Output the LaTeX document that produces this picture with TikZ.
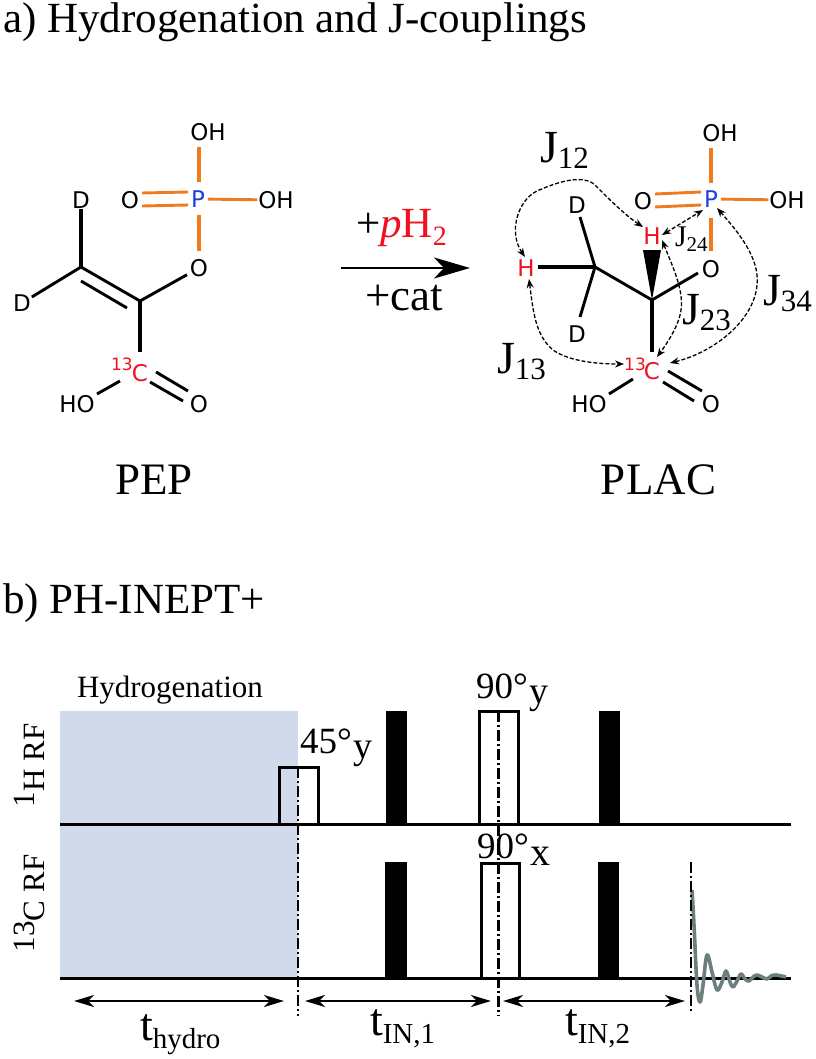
\documentclass[tikz,border=0pt]{standalone}
\usepackage{fontspec}
\setmainfont{Liberation Serif}
\newfontfamily\atomfont{DejaVu Sans}
\usetikzlibrary{arrows.meta}
\definecolor{bondor}{HTML}{F07A1E}
\definecolor{atomred}{HTML}{F01020}
\definecolor{atomblue}{HTML}{1C3FE0}
\definecolor{hydrob}{HTML}{D0DAEA}
\definecolor{fidgrey}{HTML}{6B7F7F}
\newcommand{\sz}[1]{\fontsize{#1}{#1}\selectfont}
\newcommand{\subt}[3]{\raisebox{#2}{\sz{#1}#3}}
\tikzset{
  atom/.style={font=\atomfont\sz{23},inner sep=1pt,text=black,outer sep=0pt,text height=17pt,text depth=0pt},
  redatom/.style={atom,text=atomred},
  blueatom/.style={atom,text=atomblue},
  bond/.style={line width=2.9pt,black},
  pbond/.style={line width=2.9pt,bondor},
  jarrow/.style={dash pattern=on 4pt off 2pt,line width=1.3pt,{Stealth[length=9pt,width=7pt]}-{Stealth[length=9pt,width=7pt]}},
  serif/.style={inner sep=0pt,outer sep=0pt,anchor=base west},
  pulseline/.style={line width=3pt,black},
  dashdot/.style={line width=2.4pt,dash pattern=on 11pt off 3pt on 2pt off 3pt},
  dimarrow/.style={line width=2.2pt,{Stealth[length=20pt,width=12pt,inset=6pt]}-{Stealth[length=20pt,width=12pt,inset=6pt]}},
}
\begin{document}
\begin{tikzpicture}[x=1pt,y=-1pt]
\useasboundingbox (0,0) rectangle (815,1059);
% titles
\node[serif,font=\sz{43}] (ta) at (3,33) {a) Hydrogenation and J-couplings};
\node[serif,font=\sz{43}] (tb) at (3,613) {b) PH-INEPT+};
% ---------- PEP
\node[atom] (aOHt) at (208,132) {OH};
\node[blueatom,inner sep=3pt] (aP) at (198,199) {P};
\node[atom] (aOHr) at (276,200) {OH};
\node[atom,inner sep=3pt] (aOl) at (130,200) {O};
\node[atom,inner sep=3pt] (aO) at (199,268) {O};
\node[atom] (aDt) at (81,200) {D};
\node[atom] (aDl) at (22,303) {D};
\node[redatom,inner sep=2pt] (aC) at (140,373) {C};
\node[redatom,font=\atomfont\sz{17}] (aCn) at (122,362) {13};
\node[atom] (aHO) at (77,404) {HO};
\node[atom,inner sep=3pt] (aOb) at (199,404) {O};
\coordinate (aC1) at (81,267);
\coordinate (aC2) at (140,301);
\coordinate (aC1i) at (81,281);
\coordinate (aC2i) at (127,308);
\draw[pbond,line width=3.6pt] (199,147) -- (199,182);
\draw[pbond] (aP) -- (aOHr);
\draw[pbond] ([yshift=7pt]aOl.east) -- ([yshift=7pt]aP.west);
\draw[pbond] ([yshift=-6pt]aOl.east) -- ([yshift=-6pt]aP.west);
\draw[pbond,line width=3.6pt] (199,215) -- (199,251);
\draw[bond] (aO) -- (aC2);
\draw[bond] (aC1) -- (aC2);
\draw[bond] (aC1i) -- (aC2i);
\draw[bond,line width=3.6pt] (aDt) -- (aC1);
\draw[bond] (aDl) -- (aC1);
\draw[bond,line width=3.6pt] (aC2) -- (140,352);
\draw[bond] (120,381) -- (97,394);
\draw[bond] (156,372) -- (188,391);
\draw[bond] (150,382) -- (183,401);
\node[serif,font=\sz{45},anchor=base] (pep) at (154,494) {PEP};
% ---------- arrow
\coordinate (rs) at (341,268);
\coordinate (re) at (470,268);
\draw[line width=2.4pt,-{Stealth[length=36pt,width=21pt,inset=10pt]}] (rs) -- (re);
\node[serif,font=\sz{43}] (rt) at (356,237) {+\textcolor{atomred}{\textit{p}H\subt{28}{-9pt}{2}}};
\node[serif,font=\sz{45}] (rb) at (365,310) {+cat};
% ---------- PLAC
\node[atom] (bOHt) at (720,133) {OH};
\node[blueatom,inner sep=3pt] (bP) at (711,199) {P};
\node[atom] (bOHr) at (787,200) {OH};
\node[atom,inner sep=3pt] (bOl) at (643,201) {O};
\node[atom,inner sep=3pt] (bO) at (711,269) {O};
\node[redatom,inner sep=3pt] (bH) at (652,236) {H};
\node[redatom,inner sep=3pt] (bHl) at (526,268) {H};
\node[atom] (bDt) at (577,205) {D};
\node[atom] (bDb) at (577,334) {D};
\node[redatom,inner sep=2pt] (bC) at (652,371) {C};
\node[redatom,font=\atomfont\sz{17}] (bCn) at (635,362) {13};
\node[atom] (bHO) at (589,404) {HO};
\node[atom,inner sep=3pt] (bOb) at (711,404) {O};
\coordinate (bC1) at (595,267);
\coordinate (bC2) at (652,300);
\draw[pbond,line width=3.6pt] (711,148) -- (711,183);
\draw[pbond] (bP) -- (bOHr);
\draw[pbond] ([yshift=7pt]bOl.east) -- ([yshift=7pt]bP.west);
\draw[pbond] ([yshift=-6pt]bOl.east) -- ([yshift=-6pt]bP.west);
\draw[pbond,line width=3.6pt] (711,218) -- (711,251);
\fill[black] (bC2) -- (643,250) -- (661,250) -- cycle;
\draw[bond] (bC2) -- (698,273);
\draw[bond] (bC1) -- (bC2);
\draw[bond,line width=3.6pt] (538,267) -- (bC1);
\draw[bond] (580,217) -- (bC1);
\draw[bond] (580,317) -- (bC1);
\draw[bond,line width=3.6pt] (bC2) -- (652,352);
\draw[bond] (633,379) -- (609,394);
\draw[bond] (668,371) -- (702,391);
\draw[bond] (663,382) -- (694,401);
\node[serif,font=\sz{45},anchor=base] (plac) at (658.5,494) {PLAC};
% J couplings
\draw[jarrow] (525,257) .. controls (508,232) and (518,200) .. (537,191) .. controls (555,183) and (585,172) .. (597,187) .. controls (610,200) and (625,215) .. (643,227);
\draw[jarrow] (529,279) .. controls (533,310) and (535,335) .. (553,350) .. controls (570,362) and (600,364) .. (624,364);
\draw[jarrow] (662,235) -- (703,210);
\draw[jarrow] (662,240) .. controls (672,265) and (684,290) .. (681,310) .. controls (679,325) and (668,342) .. (657,357);
\draw[jarrow] (717,208) .. controls (738,232) and (760,258) .. (757,285) .. controls (754,320) and (715,352) .. (670,363);
\node[serif,font=\sz{46}] (j12) at (540,163) {J\subt{31}{-6pt}{12}};
\node[serif,font=\sz{46}] (j13) at (497,373) {J\subt{31}{-6pt}{13}};
\node[serif,font=\sz{46}] (j23) at (682,324) {J\subt{31}{-6pt}{23}};
\node[serif,font=\sz{46}] (j34) at (763,305) {J\subt{31}{-6pt}{34}};
\node[serif,font=\sz{30}] (j24) at (675,247) {J\subt{21}{-5pt}{24}};
% ---------- sequence
\fill[hydrob] (60,711) rectangle (298,978);
\node[serif,font=\sz{31}] (hyd) at (77,697) {Hydrogenation};
\draw[pulseline] (279,824) -- (279,767) -- (318,767) -- (318,824);
\draw[pulseline] (479,824) -- (479,711) -- (518,711) -- (518,824);
\draw[pulseline] (481,978) -- (481,863) -- (519,863) -- (519,978);
\fill[black] (386,711) rectangle (407,824);
\fill[black] (599,711) rectangle (620,824);
\fill[black] (385,862) rectangle (407,978);
\fill[black] (598,862) rectangle (619,978);
\draw[pulseline] (60,824) -- (791,824);
\draw[pulseline] (60,978) -- (791,978);
\draw[fidgrey,line width=3.6pt,line join=round] plot[smooth,tension=0.6] coordinates {(692,890) (694,925) (697,985) (700,1002) (703,985) (707,955) (712,972) (717,990) (722,982) (726,971) (730,982) (733,987) (737,981) (741,974) (745,979) (749,981) (753,977) (757,975) (762,977) (767,979) (771,976) (776,975) (786,977)};
\coordinate (d1a) at (298,767); \coordinate (d1b) at (298,1016);
\coordinate (d2a) at (498.5,711); \coordinate (d2b) at (498.5,1016);
\coordinate (d3a) at (691,862); \coordinate (d3b) at (691,1012);
\draw[dashdot] (d1a) -- (d1b);
\draw[dashdot] (d2a) -- (d2b);
\draw[dashdot] (d3a) -- (d3b);
\coordinate (a1) at (74,1001); \coordinate (a2) at (284,1001);
\coordinate (a3) at (305,1001); \coordinate (a4) at (491,1001);
\coordinate (a5) at (503,1001); \coordinate (a6) at (685,1001);
\draw[dimarrow] (a1) -- (a2);
\draw[dimarrow] (a3) -- (a4);
\draw[dimarrow] (a5) -- (a6);
\node[serif,font=\sz{37}] (l45) at (300,753) {45°\kern2pt\subt{38}{-5pt}{y}};
\node[serif,font=\sz{37}] (l90y) at (476,698) {90°\kern2pt\subt{38}{-5pt}{y}};
\node[serif,font=\sz{37}] (l90x) at (477,858) {90°\kern2pt\subt{40}{-7pt}{x}};
\node[serif,font=\sz{46}] (th) at (140,1040) {t\subt{29}{-8pt}{hydro}};
\node[serif,font=\sz{46}] (t1) at (370,1035) {t\subt{29}{-8pt}{IN,1}};
\node[serif,font=\sz{46}] (t2) at (565,1035) {t\subt{29}{-8pt}{IN,2}};
\node[serif,font=\sz{31},rotate=90,anchor=base west] (lh) at (44,807) {\raisebox{10pt}{1}H RF};
\node[serif,font=\sz{31},rotate=90,anchor=base west] (lc) at (44,952) {\raisebox{10pt}{13}C RF};
\end{tikzpicture}
\end{document}
